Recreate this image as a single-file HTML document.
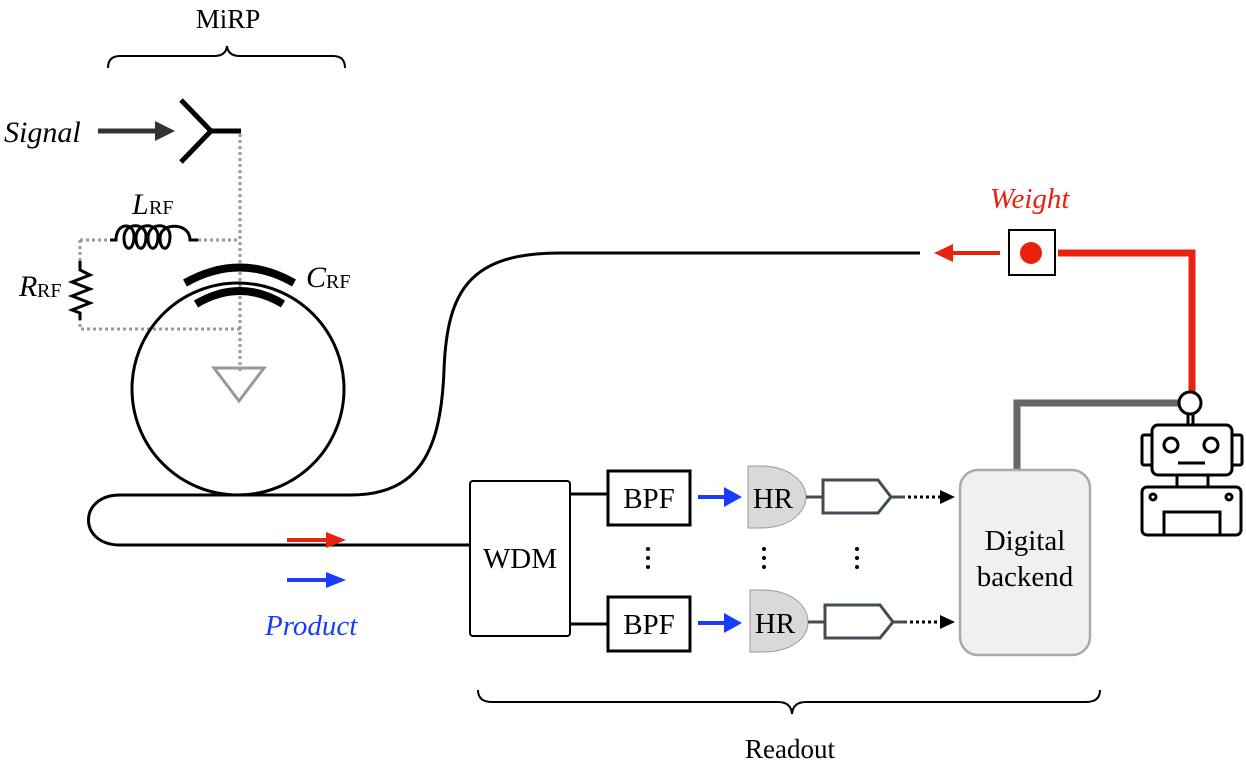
<!DOCTYPE html>
<html><head><meta charset="utf-8"><style>
html,body{margin:0;padding:0;background:#fff;}
svg{display:block;}
text{font-family:"Liberation Serif","Times New Roman",serif;}
</style></head><body>
<svg width="1246" height="762" viewBox="0 0 1246 762" xmlns="http://www.w3.org/2000/svg" font-family="Liberation Serif, serif">
<!-- MiRP brace -->
<text x="228" y="28" font-size="27" text-anchor="middle">MiRP</text>
<path d="M108 68 Q108 56 120 56 L214 56 Q226 56 227 46 Q228 56 240 56 L333 56 Q345 56 345 68" fill="none" stroke="#000" stroke-width="2"/>
<!-- Signal -->
<text x="4" y="142" font-size="30" font-style="italic">Signal</text>
<line x1="98" y1="131" x2="160" y2="131" stroke="#333" stroke-width="5"/>
<path d="M155 121 L175 131 L155 141 Z" fill="#333"/>
<path d="M181 100 L211 131 L181 162 M211 131 L241 131" fill="none" stroke="#000" stroke-width="5"/>
<!-- dotted circuit -->
<g fill="none" stroke="#999" stroke-width="3" stroke-dasharray="3,3">
<path d="M240 134 L240 372"/>
<path d="M80 240 L110 240 M198 240 L240 240"/>
<path d="M80 240 L80 262 M80 318 L80 329 L240 329"/>
</g>
<!-- inductor -->
<path d="M110 240 L116 240 C116 222 134 222 134 236 C134 252 124 252 124 238 C124 222 146 222 146 236 C146 252 136 252 136 238 C136 222 158 222 158 236 C158 252 148 252 148 238 C148 222 170 222 170 236 C170 252 160 252 160 238 C160 222 190 222 190 240 L198 240" fill="none" stroke="#000" stroke-width="3"/>
<text x="132" y="214" font-size="30" font-style="italic">L</text><text x="149" y="214" font-size="20">RF</text>
<!-- resistor -->
<path d="M80 261 L80 270 L90 275 L72 282 L90 289 L72 296 L90 303 L72 310 L80 313 L80 320" fill="none" stroke="#000" stroke-width="3"/>
<text x="19" y="296" font-size="30" font-style="italic">R</text><text x="37" y="297" font-size="20">RF</text>
<!-- ring -->
<circle cx="238" cy="389" r="106" fill="none" stroke="#000" stroke-width="3"/>
<path d="M185 283 Q240 252 294 283" fill="none" stroke="#000" stroke-width="8"/>
<path d="M196 304 Q240 278 283 304" fill="none" stroke="#000" stroke-width="8"/>
<text x="306" y="287" font-size="30" font-style="italic">C</text><text x="326" y="288" font-size="20">RF</text>
<path d="M214 368 L264 368 L239 401 Z" fill="none" stroke="#999" stroke-width="3"/>
<!-- fiber -->
<path d="M920 253 L560 253 C470 253 447 290 444 370 C441 450 420 495 350 495 L120 495 C78 495 78 545 120 545 L470 545" fill="none" stroke="#000" stroke-width="3"/>
<!-- red/blue arrows -->
<line x1="287" y1="540" x2="330" y2="540" stroke="#e8220f" stroke-width="4"/><path d="M326 532 L346 540 L326 548 Z" fill="#e8220f"/>
<line x1="287" y1="580" x2="330" y2="580" stroke="#1a3cff" stroke-width="4"/><path d="M326 572 L346 580 L326 588 Z" fill="#1a3cff"/>
<text x="265" y="635" font-size="29" font-style="italic" fill="#1a3cff">Product</text>
<!-- WDM -->
<rect x="470" y="481" width="100" height="155" rx="3" fill="#fff" stroke="#000" stroke-width="2"/>
<text x="520" y="568" font-size="29" text-anchor="middle">WDM</text>
<line x1="570" y1="494" x2="608" y2="494" stroke="#000" stroke-width="3"/>
<line x1="570" y1="624" x2="608" y2="624" stroke="#000" stroke-width="3"/>
<!-- rows -->
<g>
<rect x="608" y="471" width="82" height="54" fill="#fff" stroke="#000" stroke-width="3"/>
<text x="649" y="508" font-size="29" text-anchor="middle">BPF</text>
<line x1="698" y1="497" x2="728" y2="497" stroke="#1a3cff" stroke-width="4"/><path d="M724 487 L742 497 L724 507 Z" fill="#1a3cff"/>
<path d="M748 466 L760 466 C790 466 806 482 806 497 C806 512 790 528 760 528 L748 528 Z" fill="#d9d9d9" stroke="#999" stroke-width="1"/>
<text x="773" y="508" font-size="29" text-anchor="middle">HR</text>
<line x1="806" y1="497" x2="823" y2="497" stroke="#444b55" stroke-width="3"/>
<path d="M823 480 L878 480 L891 497 L878 513 L823 513 Z" fill="#fff" stroke="#444b55" stroke-width="3"/>
<line x1="891" y1="497" x2="905" y2="497" stroke="#444b55" stroke-width="3"/>
<line x1="908" y1="497" x2="940" y2="497" stroke="#000" stroke-width="3" stroke-dasharray="3,3"/><path d="M940 490 L955 497 L940 504 Z" fill="#000"/>
</g>
<g>
<rect x="608" y="597" width="82" height="54" fill="#fff" stroke="#000" stroke-width="3"/>
<text x="649" y="634" font-size="29" text-anchor="middle">BPF</text>
<line x1="698" y1="623" x2="728" y2="623" stroke="#1a3cff" stroke-width="4"/><path d="M724 613 L742 623 L724 633 Z" fill="#1a3cff"/>
<path d="M750 590 L762 590 C792 590 808 606 808 622 C808 638 792 652 762 652 L750 652 Z" fill="#d9d9d9" stroke="#999" stroke-width="1"/>
<text x="775" y="633" font-size="29" text-anchor="middle">HR</text>
<line x1="808" y1="622" x2="825" y2="622" stroke="#444b55" stroke-width="3"/>
<path d="M825 605 L880 605 L893 622 L880 638 L825 638 Z" fill="#fff" stroke="#444b55" stroke-width="3"/>
<line x1="893" y1="622" x2="907" y2="622" stroke="#444b55" stroke-width="3"/>
<line x1="910" y1="622" x2="940" y2="622" stroke="#000" stroke-width="3" stroke-dasharray="3,3"/><path d="M940 615 L955 622 L940 629 Z" fill="#000"/>
</g>
<g fill="#000">
<circle cx="648" cy="549" r="2"/><circle cx="648" cy="558" r="2"/><circle cx="648" cy="567" r="2"/>
<circle cx="764" cy="549" r="2"/><circle cx="764" cy="558" r="2"/><circle cx="764" cy="567" r="2"/>
<circle cx="857" cy="549" r="2"/><circle cx="857" cy="558" r="2"/><circle cx="857" cy="567" r="2"/>
</g>
<!-- Digital backend -->
<path d="M1017 470 L1017 403 L1182 403" fill="none" stroke="#666" stroke-width="7"/>
<rect x="960" y="470" width="130" height="185" rx="18" fill="#f0f0f0" stroke="#aaa" stroke-width="2.5"/>
<text x="1025" y="550" font-size="29" text-anchor="middle">Digital</text>
<text x="1025" y="586" font-size="29" text-anchor="middle">backend</text>
<!-- Weight -->
<text x="990" y="208" font-size="29" font-style="italic" fill="#e8220f">Weight</text>
<path d="M1058 253 L1192 253 L1192 395" fill="none" stroke="#e8220f" stroke-width="7"/>
<rect x="1009" y="230" width="46" height="45" fill="#fff" stroke="#000" stroke-width="2"/>
<circle cx="1031" cy="253" r="11" fill="#e8220f"/>
<line x1="950" y1="253" x2="1000" y2="253" stroke="#e8220f" stroke-width="4"/><path d="M953 244 L934 253 L953 262 Z" fill="#e8220f"/>
<!-- robot -->
<g fill="none" stroke="#000" stroke-width="3">
<circle cx="1190" cy="403" r="11" fill="#fff"/>
<line x1="1188" y1="414" x2="1188" y2="425"/><line x1="1193" y1="414" x2="1193" y2="425"/>
<rect x="1152" y="425" width="80" height="50" rx="6" fill="#fff"/>
<rect x="1142" y="435" width="10" height="30" rx="2"/>
<rect x="1232" y="435" width="10" height="30" rx="2"/>
<circle cx="1171" cy="445" r="7"/><circle cx="1211" cy="445" r="7"/>
<line x1="1178" y1="463" x2="1205" y2="463"/>
<line x1="1177" y1="475" x2="1177" y2="487"/><line x1="1208" y1="475" x2="1208" y2="487"/>
<rect x="1142" y="487" width="99" height="48" rx="5"/>
<circle cx="1153" cy="497" r="3"/><circle cx="1229" cy="497" r="3"/>
<rect x="1164" y="512" width="56" height="23"/>
</g>
<!-- Readout brace -->
<path d="M478 690 Q478 702 492 702 L778 702 Q791 702 792 714 Q793 702 806 702 L1086 702 Q1100 702 1100 690" fill="none" stroke="#000" stroke-width="2"/>
<text x="790" y="758" font-size="27" text-anchor="middle">Readout</text>
</svg>
</body></html>
